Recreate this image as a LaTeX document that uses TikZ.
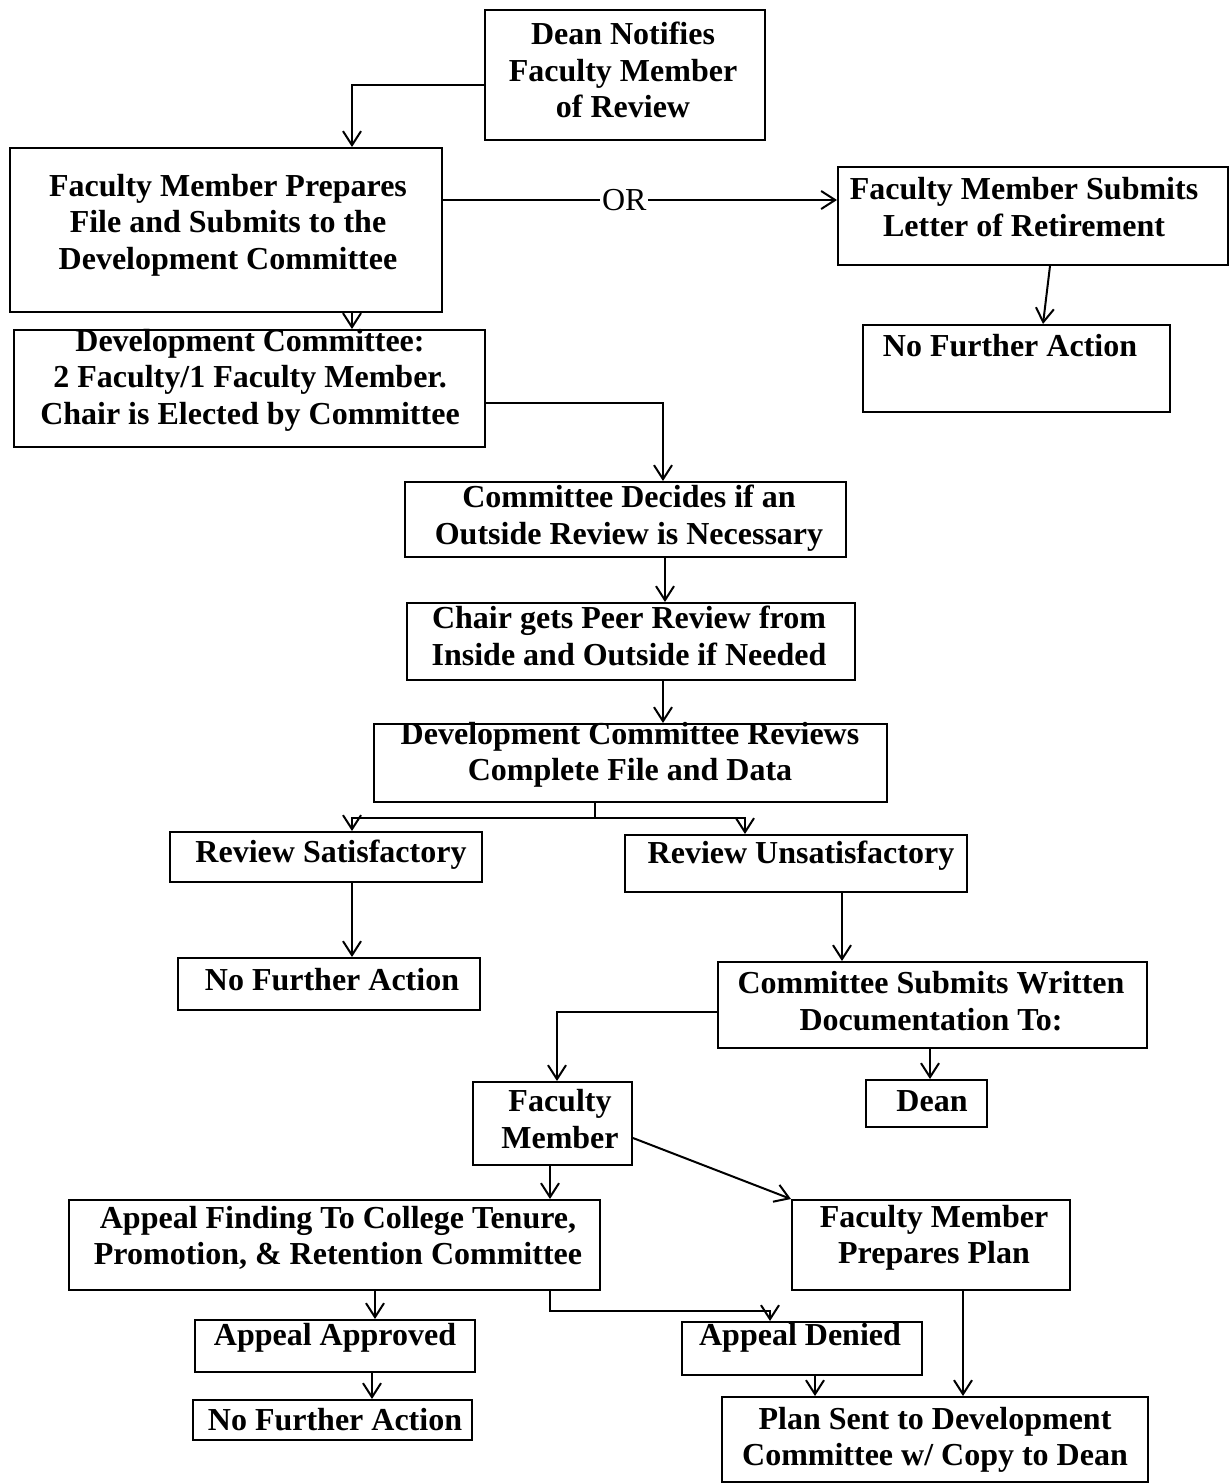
\documentclass[tikz,border=0pt]{standalone}
\usepackage{fontspec}
\setmainfont{Liberation Serif}
\usetikzlibrary{arrows.meta,calc}
\begin{document}
\begin{tikzpicture}[x=0.5pt,y=-0.5pt,
  box/.style={draw,line width=1pt,inner sep=0pt,rectangle},
  txt/.style={inner sep=0pt,align=center,font=\fontsize{16pt}{18.25pt}\selectfont\bfseries},
  conn/.style={line width=1pt},
  arr/.style={line width=1pt,-{Straight Barb[length=7pt,width=9pt,line width=1pt]}}]
\useasboundingbox (0,0) rectangle (1231,1484);
% boxes
\node[box,minimum width=140pt,minimum height=65pt] (dean) at (625,75) {};
\node[box,minimum width=216pt,minimum height=82pt] (prep) at (226,230) {};
\node[box,minimum width=195pt,minimum height=49pt] (ret) at (1033,216) {};
\node[box,minimum width=153.5pt,minimum height=43.5pt] (nfa1) at (1016.5,368.5) {};
\node[box,minimum width=235.5pt,minimum height=58.5pt] (dev) at (249.5,388.5) {};
\node[box,minimum width=220.5pt,minimum height=37.5pt] (dec) at (625.5,519.5) {};
\node[box,minimum width=224pt,minimum height=38.5pt] (chair) at (631,641.5) {};
\node[box,minimum width=256.5pt,minimum height=39pt] (rev) at (630.5,763) {};
\node[box,minimum width=156pt,minimum height=25pt] (sat) at (326,857) {};
\node[box,minimum width=171pt,minimum height=28.5pt] (unsat) at (796,863.5) {};
\node[box,minimum width=151pt,minimum height=26pt] (nfa2) at (329,984) {};
\node[box,minimum width=214.5pt,minimum height=43pt] (sub) at (932.5,1005) {};
\node[box,minimum width=79.5pt,minimum height=41.5pt] (fm) at (552.5,1123.5) {};
\node[box,minimum width=60.5pt,minimum height=23.5pt] (dn) at (926.5,1103.5) {};
\node[box,minimum width=265.5pt,minimum height=45pt] (app) at (334.5,1245) {};
\node[box,minimum width=139pt,minimum height=45pt] (plan) at (931,1245) {};
\node[box,minimum width=140pt,minimum height=26pt] (appr) at (335,1346) {};
\node[box,minimum width=120pt,minimum height=26.5pt] (den) at (802,1348.5) {};
\node[box,minimum width=139.5pt,minimum height=20pt] (nfa3) at (332.5,1420) {};
\node[box,minimum width=213pt,minimum height=42.5pt] (sent) at (935,1439.5) {};
% texts
\node[txt] (t1) at (623,70) {Dean Notifies\\Faculty Member\\of Review};
\node[txt] (t2) at (228,225) {Faculty Member Prepares\\File and Submits to the\\Development Committee};
\node[txt] (t3) at (1024,207) {Faculty Member Submits\\Letter of Retirement};
\node[txt] (t4) at (1010,346) {No Further Action};
\node[txt] (t5) at (250,380) {Development Committee:\\2 Faculty/1 Faculty Member.\\Chair is Elected by Committee};
\node[txt] (t6) at (629,518) {Committee Decides if an\\Outside Review is Necessary};
\node[txt] (t7) at (629,636) {Chair gets Peer Review from\\Inside and Outside if Needed};
\node[txt] (t8) at (630,755) {Development Committee Reviews\\Complete File and Data};
\node[txt] (t9) at (331,855) {Review Satisfactory};
\node[txt] (t10) at (801,856) {Review Unsatisfactory};
\node[txt] (t11) at (332,980) {No Further Action};
\node[txt] (t12) at (931,1001) {Committee Submits Written\\Documentation To:};
\node[txt] (t13) at (560,1119) {Faculty\\Member};
\node[txt] (t14) at (932,1101) {Dean};
\node[txt] (t15) at (338,1238) {Appeal Finding To College Tenure,\\Promotion, \& Retention Committee};
\node[txt] (t16) at (934,1238) {Faculty Member\\Prepares Plan};
\node[txt] (t17) at (335,1338) {Appeal Approved};
\node[txt] (t18) at (800,1338) {Appeal Denied};
\node[txt] (t19) at (335,1420) {No Further Action};
\node[txt] (t20) at (935,1440) {Plan Sent to Development\\Committee w/ Copy to Dean};
% connectors
\draw[arr] (dean.west |- 0,85) -| (prep.north -| 352,0);
\draw[arr] (prep.east |- 0,200) -- node[pos=0.46,fill=white,inner sep=1pt,font=\fontsize{16pt}{18pt}\selectfont] {OR} (ret.west |- 0,200);
\draw[arr] (ret.south -| 1050,0) -- (nfa1.north -| 1043,0);
\draw[arr] (prep.south -| 352,0) -- (dev.north -| 352,0);
\draw[arr] (dev.east |- 0,403) -| (dec.north -| 663,0);
\draw[arr] (dec.south -| 665,0) -- (chair.north -| 665,0);
\draw[arr] (chair.south -| 663,0) -- (rev.north -| 663,0);
\draw[conn] (rev.south -| 595,0) -- ++(0,15) coordinate (split);
\draw[arr] (split) -| (sat.north -| 352,0);
\draw[arr] (split) -| (unsat.north -| 745,0);
\draw[arr] (sat.south -| 352,0) -- (nfa2.north -| 352,0);
\draw[arr] (unsat.south -| 842,0) -- (sub.north -| 842,0);
\draw[arr] (sub.west |- 0,1012) -| (fm.north -| 557,0);
\draw[arr] (sub.south -| 930,0) -- (dn.north -| 930,0);
\draw[arr] (fm.south -| 550,0) -- (app.north -| 550,0);
\draw[arr] (fm.east |- 0,1138) -- (plan.north west);
\draw[arr] (app.south -| 375,0) -- (appr.north -| 375,0);
\draw[arr] (app.south -| 550,0) -- ++(0,20) -| (den.north -| 770,0);
\draw[arr] (appr.south -| 372,0) -- (nfa3.north -| 372,0);
\draw[arr] (den.south -| 815,0) -- (sent.north -| 815,0);
\draw[arr] (plan.south -| 963,0) -- (sent.north -| 963,0);
\end{tikzpicture}
\end{document}
